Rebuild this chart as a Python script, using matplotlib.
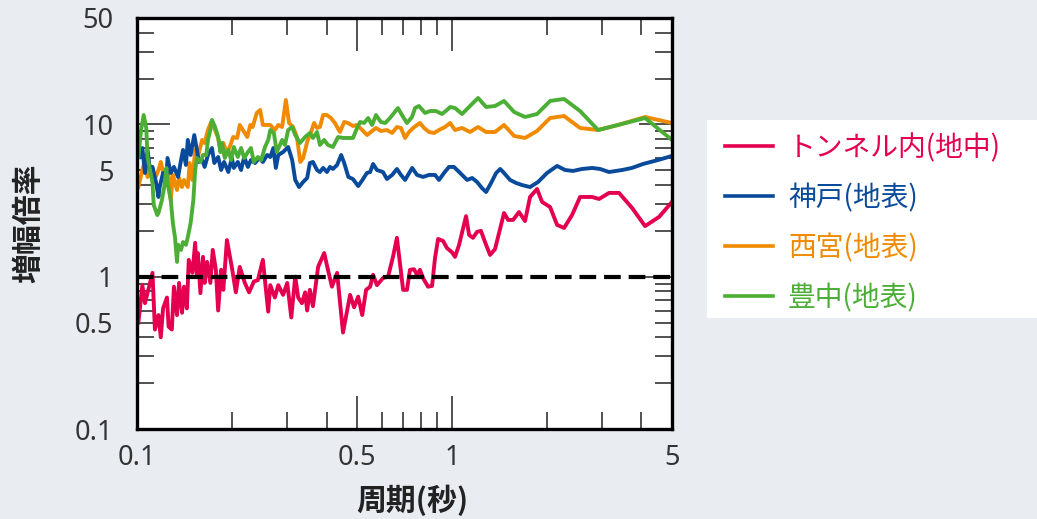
import matplotlib
matplotlib.use("Agg")
import matplotlib.pyplot as plt
from matplotlib.patches import Rectangle
from matplotlib.ticker import NullFormatter

# ---------------- data (period [s], amplification) ----------------
red_x = [0.101, 0.104, 0.106, 0.112, 0.114, 0.117, 0.119, 0.121, 0.1245, 0.126, 0.129, 0.131, 0.134, 0.136,
         0.139, 0.141, 0.144, 0.146, 0.150, 0.153, 0.155, 0.156, 0.159, 0.162, 0.164, 0.167, 0.171, 0.174,
         0.178, 0.181, 0.185, 0.188, 0.193, 0.200, 0.206, 0.212, 0.220, 0.227, 0.235, 0.242, 0.251, 0.261,
         0.265, 0.274, 0.281, 0.291, 0.300, 0.309, 0.318, 0.325, 0.334, 0.342, 0.347, 0.354, 0.362, 0.376,
         0.393, 0.404, 0.416, 0.432, 0.451, 0.475, 0.489, 0.504, 0.519, 0.534, 0.550, 0.562, 0.578, 0.604,
         0.627, 0.650, 0.669, 0.700, 0.720, 0.736, 0.758, 0.775, 0.792, 0.810, 0.840, 0.865, 0.884, 0.904,
         0.937, 0.965, 1.0, 1.023, 1.054, 1.109, 1.134, 1.167, 1.202, 1.237, 1.274, 1.322, 1.371, 1.412,
         1.464, 1.508, 1.564, 1.634, 1.707, 1.771, 1.864, 1.933, 2.05, 2.158, 2.271, 2.407, 2.553, 2.787,
         2.934, 3.155, 3.395, 3.734, 4.106, 4.549, 5.0]
red_y = [0.50, 0.88, 0.67, 1.06, 0.45, 0.56, 0.40, 0.62, 0.73, 0.47, 0.45, 0.86, 0.56, 0.91,
         0.58, 0.86, 0.62, 1.29, 1.06, 1.67, 1.0, 1.43, 0.78, 1.35, 0.91, 1.25, 0.91, 1.50,
         1.11, 0.60, 1.11, 0.82, 1.74, 1.16, 0.79, 1.16, 0.91, 0.79, 0.93, 0.95, 1.29, 0.59,
         0.88, 0.73, 0.88, 0.76, 0.91, 0.54, 1.0, 0.73, 0.67, 0.79, 0.60, 0.82, 0.64, 1.16,
         1.43, 1.11, 0.86, 1.06, 0.43, 0.76, 0.63, 0.74, 0.56, 0.82, 0.86, 1.03, 0.88, 0.98,
         1.0, 1.35, 1.80, 0.82, 0.82, 1.11, 1.12, 1.03, 1.11, 0.98, 0.86, 0.87, 1.33, 1.77,
         1.72, 1.54, 1.45, 1.35, 1.62, 2.50, 1.88, 1.80, 1.97, 2.0, 1.69, 1.39, 1.52, 1.94,
         2.62, 2.36, 2.36, 2.66, 2.32, 3.34, 3.77, 3.10, 2.87, 2.19, 2.09, 2.54, 3.34, 3.34,
         3.24, 3.55, 3.55, 2.83, 2.15, 2.47, 3.10]

blue_x = [0.102, 0.104, 0.106, 0.108, 0.110, 0.112, 0.115, 0.117, 0.118, 0.121, 0.124, 0.125, 0.128, 0.131,
          0.135, 0.138, 0.140, 0.143, 0.145, 0.148, 0.152, 0.155, 0.157, 0.161, 0.164, 0.168, 0.173, 0.176,
          0.181, 0.185, 0.189, 0.195, 0.200, 0.203, 0.209, 0.214, 0.219, 0.225, 0.230, 0.237, 0.244, 0.251,
          0.259, 0.265, 0.271, 0.276, 0.281, 0.291, 0.302, 0.311, 0.318, 0.327, 0.337, 0.347, 0.354, 0.362,
          0.373, 0.381, 0.390, 0.401, 0.410, 0.419, 0.432, 0.445, 0.455, 0.469, 0.485, 0.504, 0.520, 0.537,
          0.550, 0.562, 0.578, 0.604, 0.622, 0.646, 0.669, 0.689, 0.710, 0.748, 0.775, 0.810, 0.846, 0.884,
          0.910, 0.944, 0.979, 1.015, 1.062, 1.118, 1.160, 1.202, 1.246, 1.284, 1.332, 1.382, 1.424, 1.464,
          1.53, 1.598, 1.67, 1.771, 1.878, 2.005, 2.158, 2.288, 2.425, 2.59, 2.79, 2.955, 3.155, 3.47,
          3.73, 4.046, 4.515, 5.0]
blue_y = [6.11, 7.0, 4.80, 6.80, 5.02, 5.26, 4.13, 3.34, 3.88, 4.80, 4.32, 6.02, 4.80, 5.26,
          4.52, 5.84, 6.80, 5.42, 7.91, 6.30, 8.52, 6.80, 5.67, 5.84, 5.26, 6.30, 7.0, 5.58,
          6.11, 5.02, 5.67, 4.87, 6.02, 5.18, 5.67, 5.02, 6.11, 5.26, 5.84, 5.58, 6.02, 5.67,
          6.30, 6.11, 7.0, 5.18, 6.30, 6.59, 7.11, 5.84, 4.32, 3.88, 4.19, 4.45, 5.58, 5.67,
          5.02, 4.87, 5.18, 4.87, 5.26, 5.10, 5.42, 6.30, 5.58, 4.52, 4.38, 3.94, 4.32, 4.80,
          4.87, 5.50, 5.02, 4.87, 4.38, 4.66, 5.10, 4.66, 4.32, 5.18, 4.66, 4.52, 4.66, 4.66,
          4.32, 4.80, 5.26, 5.26, 4.80, 4.32, 4.45, 4.19, 3.82, 3.60, 4.13, 4.80, 5.10, 4.80,
          4.32, 4.13, 4.0, 3.88, 4.19, 4.80, 5.34, 5.02, 4.95, 5.10, 5.18, 5.10, 4.87, 5.02,
          5.18, 5.50, 5.84, 6.21]

orange_x = [0.101, 0.104, 0.106, 0.108, 0.112, 0.113, 0.117, 0.119, 0.122, 0.125, 0.128, 0.130, 0.134, 0.136,
            0.139, 0.141, 0.145, 0.147, 0.150, 0.153, 0.156, 0.161, 0.164, 0.168, 0.172, 0.176, 0.181, 0.184,
            0.188, 0.193, 0.197, 0.202, 0.208, 0.212, 0.219, 0.224, 0.229, 0.233, 0.240, 0.246, 0.251, 0.259,
            0.265, 0.274, 0.281, 0.289, 0.297, 0.304, 0.313, 0.322, 0.330, 0.337, 0.347, 0.357, 0.365, 0.373,
            0.381, 0.390, 0.401, 0.413, 0.425, 0.441, 0.455, 0.468, 0.485, 0.500, 0.519, 0.538, 0.553, 0.574,
            0.595, 0.622, 0.646, 0.669, 0.689, 0.710, 0.731, 0.753, 0.775, 0.792, 0.816, 0.846, 0.878, 0.910,
            0.951, 0.987, 1.023, 1.077, 1.142, 1.211, 1.284, 1.371, 1.464, 1.576, 1.707, 1.864, 2.05, 2.271,
            2.553, 2.912, 3.37, 4.106, 5.0]
orange_y = [3.88, 5.02, 5.84, 4.52, 5.18, 4.19, 5.02, 5.67, 4.52, 5.42, 3.19, 4.66, 3.71, 4.45,
            3.88, 4.32, 3.88, 5.58, 4.32, 6.80, 6.11, 7.91, 7.55, 9.19, 10.38, 9.48, 8.15, 6.80,
            7.55, 6.49, 7.11, 8.27, 8.15, 9.92, 8.92, 8.27, 9.92, 9.62, 11.89, 12.44, 9.92, 9.92,
            9.92, 9.19, 9.92, 9.62, 14.47, 10.22, 9.62, 8.27, 5.67, 6.02, 7.67, 8.92, 10.22, 9.48,
            9.62, 11.53, 11.53, 11.02, 10.22, 8.92, 10.38, 10.22, 9.77, 9.92, 9.19, 8.52, 8.92, 9.48,
            9.06, 9.19, 8.79, 9.62, 9.48, 8.15, 8.92, 9.48, 9.92, 10.22, 9.48, 8.92, 8.79, 9.19,
            9.62, 10.22, 9.19, 9.48, 8.92, 9.62, 8.92, 8.92, 9.92, 8.40, 8.15, 9.06, 11.02, 11.36,
            9.48, 9.19, 9.92, 11.19, 10.22]

green_x = [0.101, 0.103, 0.105, 0.107, 0.108, 0.112, 0.113, 0.116, 0.117, 0.120, 0.122, 0.124, 0.125, 0.128,
           0.130, 0.132, 0.134, 0.135, 0.138, 0.140, 0.143, 0.145, 0.148, 0.151, 0.153, 0.155, 0.159, 0.162,
           0.166, 0.168, 0.171, 0.173, 0.177, 0.181, 0.184, 0.186, 0.190, 0.195, 0.199, 0.203, 0.209, 0.214,
           0.219, 0.225, 0.230, 0.235, 0.242, 0.248, 0.255, 0.261, 0.265, 0.272, 0.278, 0.289, 0.295, 0.302,
           0.311, 0.318, 0.329, 0.342, 0.354, 0.362, 0.373, 0.381, 0.393, 0.404, 0.419, 0.435, 0.451, 0.468,
           0.485, 0.500, 0.511, 0.526, 0.542, 0.558, 0.574, 0.595, 0.614, 0.636, 0.674, 0.700, 0.720, 0.747,
           0.764, 0.786, 0.822, 0.852, 0.890, 0.930, 0.965, 0.987, 1.023, 1.077, 1.142, 1.211, 1.284, 1.371,
           1.464, 1.576, 1.707, 1.864, 2.05, 2.271, 2.553, 2.912, 3.37, 4.106, 5.0]
green_y = [6.11, 9.19, 11.53, 9.48, 6.11, 4.13, 2.96, 2.54, 2.62, 3.19, 3.88, 5.18, 4.13, 3.19,
           2.25, 1.82, 1.25, 1.62, 1.50, 1.69, 1.62, 1.82, 2.25, 3.19, 5.02, 6.02, 5.67, 6.30,
           6.30, 7.91, 9.19, 10.70, 9.62, 8.27, 6.59, 7.55, 6.02, 6.80, 5.84, 7.11, 6.11, 7.0,
           6.02, 6.59, 7.0, 5.67, 6.11, 5.84, 7.11, 7.91, 9.19, 8.79, 6.59, 7.91, 7.33, 9.19,
           9.62, 8.52, 7.55, 8.27, 8.79, 8.15, 8.92, 7.33, 7.91, 7.33, 7.11, 8.27, 8.15, 8.15,
           8.15, 9.48, 10.38, 10.22, 11.02, 9.92, 11.53, 10.38, 10.22, 11.02, 12.82, 11.19, 10.22, 11.19,
           12.82, 13.22, 11.89, 12.25, 12.25, 11.71, 12.44, 13.02, 12.82, 11.71, 13.22, 14.92, 13.02, 13.22,
           14.26, 12.07, 11.19, 11.71, 14.26, 14.70, 12.25, 9.19, 9.92, 11.02, 7.91]

series_labels = ["トンネル内(地中)", "神戸(地表)", "西宮(地表)", "豊中(地表)"]
series_colors = ["#e4004f", "#0a4a9b", "#f08a00", "#4caf35"]
reference_level = 1.0

x_major = [0.1, 0.5, 1, 5]
x_major_labels = ["0.1", "0.5", "1", "5"]
x_minor = [0.2, 0.3, 0.4, 0.6, 0.7, 0.8, 0.9, 2, 3, 4]
y_major = [0.1, 1, 10]
y_major_labels = ["0.1", "1", "10"]
y_minor = [0.2, 0.3, 0.4, 0.5, 0.6, 0.7, 0.8, 0.9, 2, 3, 4, 5, 6, 7, 8, 9, 20, 30, 40, 50]
y_minor_labels = ["", "", "", "0.5", "", "", "", "", "", "", "", "5", "", "", "", "", "", "", "", "50"]

# ---------------- figure ----------------
JP = ["Noto Sans CJK JP", "DejaVu Sans"]
bg = "#e9edf2"
fig = plt.figure(figsize=(10.37, 5.19), dpi=100, facecolor=bg)
ax = fig.add_axes([137 / 1037, 1 - 429 / 519, 535 / 1037, 411 / 519])
ax.set_facecolor("white")

lw = 2.8
series = [(red_x, red_y), (orange_x, orange_y), (blue_x, blue_y), (green_x, green_y)]
order = [0, 2, 1, 3]
handles = {}
for idx, (xs, ys) in zip(order, series):
    h, = ax.plot(xs, ys, color=series_colors[idx], lw=lw, solid_joinstyle="round",
                 label=series_labels[idx], zorder=3)
    handles[idx] = h

ax.axhline(reference_level, color="black", lw=3.0, dashes=(4.0, 1.9), zorder=4)

ax.set_xscale("log")
ax.set_yscale("log")
ax.set_xlim(0.1, 5)
ax.set_ylim(0.1, 50)

ax.set_xticks(x_major, labels=x_major_labels)
ax.set_xticks(x_minor, minor=True)
ax.xaxis.set_minor_formatter(NullFormatter())
ax.set_yticks(y_major, labels=y_major_labels)
ax.set_yticks(y_minor, labels=y_minor_labels, minor=True)

ax.tick_params(which="both", direction="in", top=True, right=True, color="#222222",
               width=1.1, labelsize=19.5, labelcolor="#333333", labelfontfamily="Noto Sans")
ax.tick_params(which="major", length=24)
ax.tick_params(which="minor", length=12)
ax.tick_params(axis="y", which="both", pad=17)
ax.tick_params(axis="x", which="both", pad=11)

for s in ax.spines.values():
    s.set_linewidth(2.4)
    s.set_color("black")
    s.set_zorder(5)

ax.set_xlabel("周期(秒)", fontsize=21.5, fontweight="bold", family=JP, color="#222222", va="center")
ax.xaxis.set_label_coords(0.514, -0.173)
ax.set_ylabel("増幅倍率", fontsize=21.5, fontweight="bold", family=JP, color="#222222", va="center")
ax.yaxis.set_label_coords((28 - 137) / 535, 0.5)

# legend panel
fig.patches.append(Rectangle((707 / 1037, 1 - 318 / 519), 330 / 1037, 198 / 519,
                             transform=fig.transFigure, facecolor="white", edgecolor="none", zorder=0))
leg = fig.legend([handles[i] for i in range(4)], series_labels, loc="upper left",
                 bbox_to_anchor=(725 / 1037, 1 - 133 / 519), frameon=False,
                 prop={"family": JP, "size": 20}, handlelength=1.73, handletextpad=0.54,
                 labelspacing=0.72, borderpad=0, borderaxespad=0)
for t, c in zip(leg.get_texts(), series_colors):
    t.set_color(c)
for l in leg.get_lines():
    l.set_linewidth(2.6)

fig.savefig("out.png", dpi=100, facecolor=bg)
